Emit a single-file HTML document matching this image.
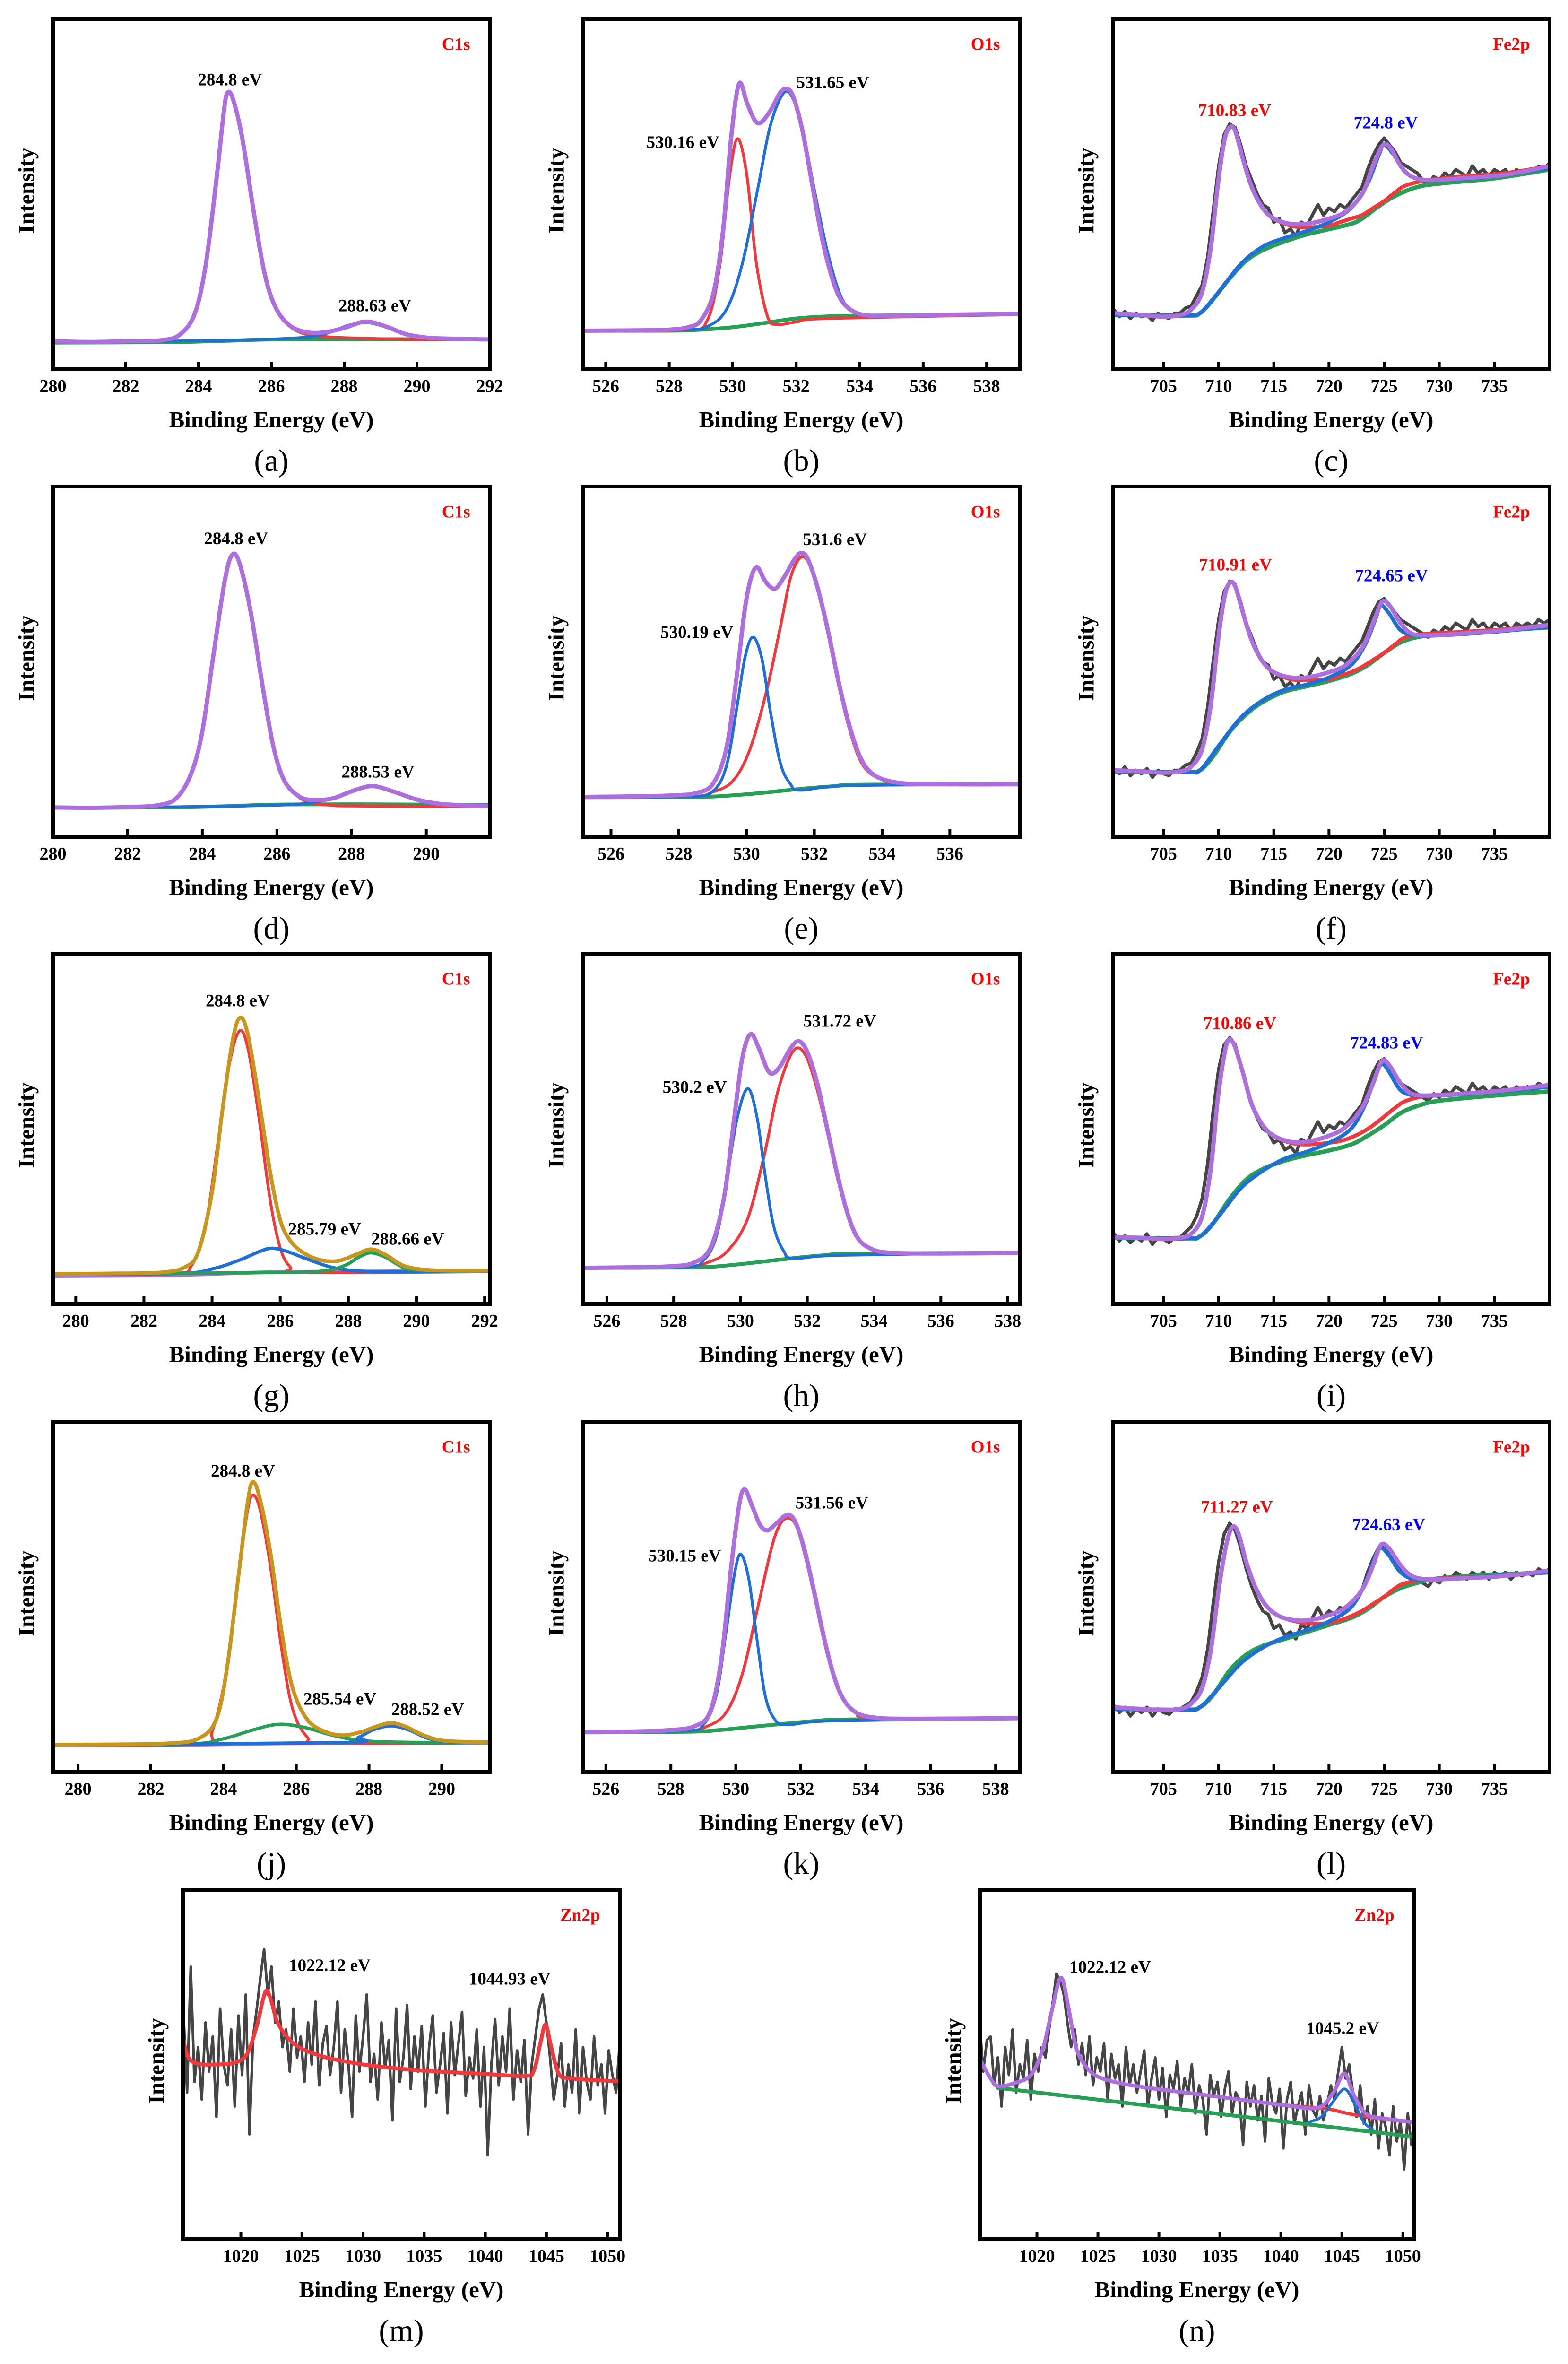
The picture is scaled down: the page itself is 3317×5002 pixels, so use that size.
<!DOCTYPE html>
<html><head><meta charset="utf-8"><title>XPS spectra</title>
<style>
html,body{margin:0;padding:0;background:#fff;width:3317px;height:5002px;overflow:hidden;}
svg{display:block;}
.tk{font-family:"Liberation Serif",serif;font-weight:bold;font-size:38px;}
.xl{font-family:"Liberation Serif",serif;font-weight:bold;font-size:49px;}
.yl{font-family:"Liberation Serif",serif;font-weight:bold;font-size:48px;}
.pk{font-family:"Liberation Serif",serif;font-weight:bold;font-size:37px;}
.pl{font-family:"Liberation Serif",serif;font-size:66px;}
</style></head>
<body>
<svg id="fig" xmlns="http://www.w3.org/2000/svg" width="3317" height="5002" viewBox="0 0 3317 5002">
<rect x="0" y="0" width="3317" height="5002" fill="#fff"/>
</svg>
<script>
// ---------- DATA (binding energy eV, intensity % of axis height) ----------
const aEnv=[[280,8],[281,7.8],[282,8],[283,8.3],[283.5,10],[283.9,16],[284.2,30],[284.5,55],[284.7,74],[284.8,79],[284.95,77],[285.2,66],[285.5,46],[285.8,28],[286.1,18],[286.5,12.5],[287,10.5],[287.5,10.6],[288,11.8],[288.6,13.6],[289.2,12],[289.7,10],[290.3,9],[291,8.7],[292,8.5]];
const aRed=[[280,8],[281,7.8],[282,8],[283,8.3],[283.5,10],[283.9,16],[284.2,30],[284.5,55],[284.7,74],[284.8,79],[284.95,77],[285.2,66],[285.5,46],[285.8,28],[286.1,18],[286.5,12.3],[287,9.8],[287.5,9.3],[288,9],[289,8.7],[290,8.5],[292,8.5]];
const aBlue=[[283,8],[285,8.3],[286,8.6],[287,9.2],[287.6,10.5],[288.1,12.5],[288.6,13.3],[289.1,12.2],[289.6,10.2],[290.2,8.9],[291,8.5],[292,8.4]];
const aGreen=[[280,7.6],[283,7.7],[284,7.9],[285,8.2],[286,8.5],[288,8.6],[292,8.5]];

const bEnv=[[525.3,11],[527,11.1],[528,11.3],[528.6,12],[529,14],[529.4,22],[529.7,40],[529.95,66],[530.2,81.5],[530.45,76],[530.7,71],[530.9,70.5],[531.2,74],[531.5,79],[531.7,80],[531.9,78],[532.2,68],[532.5,53],[532.8,38],[533.1,27],[533.4,20],[533.8,16.5],[534.3,15.3],[535,15.3],[536,15.4],[537,15.6],[539,15.8]];
const bRed=[[525.3,11],[528.5,11.2],[529.2,14],[529.6,30],[529.9,55],[530.16,65.8],[530.45,55],[530.75,30],[531.1,15],[531.4,12.8],[532,13.5],[533,14.5],[539,15.6]];
const bBlue=[[525.3,11],[528.5,11.3],[529.2,12.2],[529.8,17],[530.3,30],[530.8,52],[531.2,70],[531.65,79.2],[532,75],[532.3,64],[532.6,50],[533,33],[533.4,21],[533.8,16.5],[534.5,15.4],[539,15.7]];
const bGreen=[[525.3,11],[528,11],[529,11.3],[530,12],[531,13.2],[532,14.5],[533,15.1],[534,15.3],[539,15.7]];

const cRaw=[17,15,16.5,14.5,16,15,15.5,14,16,15,14.5,16,16,17.5,18,21,24,32,45,58,67,70,69,64,58,54,50,47,46,42,43,39,40,38,42,41,44,47,44,46,45,47,46,48,50,52,57,61,64,66,64,62,59,58,57,56,54,53,55,54,56,55,57,56,55,58,56,57,55,57,56,57,55,57,56,57,56,58,57,59];
const cEnv=[[700.4,16],[703,15.5],[705,15],[706.5,15.5],[707.5,17],[708.5,22],[709.3,35],[709.9,52],[710.5,65],[711,69],[711.5,68],[712.2,60],[713,52],[714,46],[715,43],[716.5,41.5],[718,41.5],[720,43],[721.5,45],[723,50],[724,58],[724.9,64],[725.6,63],[726.5,58],[727.5,55],[729,54],[732,54.5],[736,55.5],[740,58]];
const cRed=[[700.4,16],[703,15.5],[705,15],[706.5,15.5],[707.5,17],[708.5,22],[709.3,35],[709.9,52],[710.5,65],[711,69],[711.5,68],[712.2,60],[713,52],[714,46],[715,43],[716.5,41],[718,40.5],[720,41],[721,42],[722,43],[723,44],[724,46],[725,48],[726,50.5],[727,52.5],[729,54],[732,55],[736,56],[740,58]];
const cBlue=[[700.4,15.5],[707,15.4],[708.3,16],[710,22],[712,30],[714,35],[716,37.5],[718,39.5],[720,42],[722,46],[723.5,53],[724.5,61],[725,64],[725.8,61.5],[727,56],[728.5,54],[730,54],[735,55],[740,57.5]];
const cGreen=[[700.4,15.5],[707,15.3],[708.3,16],[709.5,20],[711,26],[712.5,31],[714,34],[716,36.5],[718,38.5],[720,40],[722,41.5],[723,43],[724.5,46.5],[726,49.5],[728,52],[730,53],[735,54.5],[740,57]];

const dEnv=[[280,8.4],[281,8.3],[282,8.5],[282.8,9],[283.3,11],[283.7,18],[284,30],[284.3,52],[284.6,73],[284.8,80.5],[285,78],[285.3,64],[285.6,44],[285.9,26],[286.2,16],[286.6,11.5],[287,10.5],[287.5,11],[288,13],[288.55,14.5],[289.1,13],[289.7,10.8],[290.3,9.5],[291,9],[291.7,8.8]];
const dRed=[[280,8.4],[281,8.3],[282,8.5],[282.8,9],[283.3,11],[283.7,18],[284,30],[284.3,52],[284.6,73],[284.8,80.5],[285,78],[285.3,64],[285.6,44],[285.9,26],[286.2,16],[286.6,11.2],[287,9.5],[287.5,9],[288,8.8],[291.7,8.6]];
const dBlue=[[282,8.4],[285,8.8],[286.5,9.3],[287.3,10.5],[288,13],[288.55,14.3],[289.1,13],[289.7,10.6],[290.3,9.3],[291.7,8.8]];
const dGreen=[[280,8.3],[283,8.4],[284.5,8.7],[286,9.2],[288,9.3],[291.7,9.1]];

const eEnv=[[525.17,11.4],[527,11.6],[528,11.9],[528.5,12.5],[529,15],[529.4,25],[529.7,45],[529.95,65],[530.15,74.5],[530.33,76.8],[530.55,73],[530.83,70.8],[531.1,74],[531.4,79],[531.6,81],[531.8,79.5],[532.1,71],[532.4,59],[532.7,45],[533,33],[533.3,24],[533.6,19],[534,16.5],[534.6,15.3],[535.5,15],[538.06,15]];
const eBlue=[[525.17,11.3],[528.3,11.5],[529,13],[529.4,20],[529.7,36],[529.95,51],[530.19,57],[530.45,51],[530.7,36],[531,21],[531.3,15],[531.6,13.3],[533,14.6],[538.06,15]];
const eRed=[[525.17,11.3],[528.3,11.5],[529,12.8],[529.6,16],[530.1,25],[530.6,42],[531,60],[531.3,74],[531.6,79.8],[531.85,78],[532.1,71],[532.4,58],[532.7,44],[533,32],[533.3,23],[533.6,18.5],[534,16.5],[534.6,15.3],[538.06,15]];
const eGreen=[[525.17,11.3],[528.5,11.4],[529.5,11.8],[530.5,12.6],[531.5,13.6],[532.5,14.4],[533.5,14.9],[538.06,15]];

const fRaw=[19,18,20,17.5,19,18,19.5,17,19,18,17.5,19,19,20.5,21,24,28,37,50,62,70,73,72,67,61,57,53,50,49,45,46,43,44,42,46,45,48,51,48,50,49,51,50,52,54,56,60,64,67,68,66,64,62,61,60,59,58,57,59,58,60,59,61,60,59,62,60,61,59,61,60,61,59,61,60,61,60,62,61,62];
const fEnv=[[700.4,19],[703,18.7],[705,18.3],[706.5,18.7],[707.5,20],[708.5,25],[709.3,38],[709.9,55],[710.5,68],[711,72.5],[711.5,71.5],[712.2,64],[713,56],[714,50],[715,47],[716.5,45.5],[718,45.5],[720,47],[721.5,49],[723,54],[724,61],[724.8,67],[725.5,66],[726.5,61],[727.5,58],[729,57.5],[732,58],[736,59],[740,60.5]];
const fRed=[[700.4,19],[703,18.7],[705,18.3],[706.5,18.7],[707.5,20],[708.5,25],[709.3,38],[709.9,55],[710.5,68],[711,72.5],[711.5,71.5],[712.2,64],[713,56],[714,50],[715,47],[716.5,45],[718,44.8],[720,45],[721,46],[722,47],[723,48.5],[724,50.5],[725,52.5],[726,55],[727,57],[729,58],[732,58.5],[736,59.3],[740,60.5]];
const fBlue=[[700.4,18.7],[707,18.5],[708.3,19],[710,26],[712,34],[714,39],[716,42],[718,43.5],[720,45.5],[722,49],[723.3,55],[724.2,62],[724.7,66],[725.4,64],[726.5,59],[727.8,57.5],[730,57.5],[735,58.5],[740,60]];
const fGreen=[[700.4,18.7],[707,18.5],[708.3,19],[709.5,23],[711,30],[712.5,35],[714,38.5],[716,41.5],[718,43],[720,44.5],[722,46.5],[723.5,49],[725,52.5],[726.5,55.5],[728,57],[730,57.8],[735,58.8],[740,59.8]];

const gYellow=[[279.3,8.6],[281,8.7],[282.5,9],[283.2,10.5],[283.6,15],[284,32],[284.3,55],[284.6,75],[284.82,81.7],[285.05,77],[285.35,60],[285.7,38],[286,24],[286.3,18],[286.7,14.5],[287.2,12.5],[287.7,12.3],[288.2,14],[288.66,15.6],[289.1,14],[289.6,11],[290.2,9.8],[291,9.5],[292.15,9.5]];
const gRed=[[279.3,8.5],[282.8,8.7],[283.4,11],[283.8,22],[284.2,48],[284.5,68],[284.8,77.9],[285.05,73],[285.35,55],[285.7,30],[286,16],[286.3,10.5],[286.7,9],[292.15,9.2]];
const gBlue=[[279.3,8.5],[283,8.7],[284,10],[284.8,12.5],[285.4,15],[285.76,15.9],[286.2,15],[286.8,12.8],[287.5,10.5],[288.3,9.4],[289.5,9.2],[292.15,9.3]];
const gGreen=[[279.3,8.5],[286,9],[287.3,9.5],[287.9,11],[288.3,13.3],[288.66,14.6],[289.1,13.3],[289.5,11],[290,9.7],[292.15,9.5]];
const gPurple=[[279.3,8.1],[283,8.3],[285,8.9],[287,9.2],[292.15,9.4]];

const hEnv=[[525.28,10.3],[527,10.5],[528,10.8],[528.6,11.8],[529.1,16],[529.5,30],[529.8,52],[530.05,70],[530.3,77],[530.55,73],[530.8,67],[530.97,65.8],[531.2,68],[531.5,73],[531.75,75],[532,72],[532.3,63],[532.6,50],[532.9,37],[533.2,26],[533.5,19],[533.9,15.8],[534.5,14.6],[536,14.4],[538.36,14.6]];
const hBlue=[[525.28,10.3],[528.3,10.6],[528.9,12.5],[529.3,20],[529.6,36],[529.9,53],[530.22,61.5],[530.5,53],[530.75,36],[531,22],[531.3,15],[531.6,13],[533,13.9],[538.36,14.6]];
const hRed=[[525.28,10.3],[528.3,10.6],[529,11.8],[529.6,15],[530.2,24],[530.7,42],[531.1,60],[531.45,70],[531.72,73.1],[532,70],[532.3,61],[532.6,49],[532.9,36],[533.2,26],[533.5,19],[533.9,15.8],[534.5,14.6],[538.36,14.6]];
const hGreen=[[525.28,10.3],[528.5,10.4],[529.5,10.9],[530.5,11.9],[531.5,13],[532.5,13.9],[533.5,14.4],[538.36,14.6]];

const iRaw=[20,18,19.5,17.5,19,18,20,17,19,18.5,17.5,19,19,20.5,22,25,30,40,55,67,74,76,74,68,62,57,53,50,49,46,47,44,45,43,47,46,49,52,49,51,50,52,51,53,55,57,62,66,69,70,67,65,63,62,61,60,59,58,60,59,61,60,62,61,60,63,61,62,60,62,61,62,60,62,61,62,61,63,62,63];
const iEnv=[[700.4,19],[703,18.9],[705,18.5],[706.5,18.9],[707.5,20],[708.5,25],[709.3,39],[709.9,58],[710.5,71],[710.9,75.3],[711.4,74],[712.2,66],[713,57],[714,51],[715,48],[716.5,46.3],[718,46.3],[720,48],[721.5,50.5],[723,56],[724,63],[724.8,69.3],[725.5,68],[726.5,63],[727.5,60],[729,59.5],[732,60],[736,61],[740,62.5]];
const iRed=[[700.4,19],[703,18.9],[705,18.5],[706.5,18.9],[707.5,20],[708.5,25],[709.3,39],[709.9,58],[710.5,71],[710.9,75.3],[711.4,74],[712.2,66],[713,57],[714,51],[715,48],[716.5,46],[718,45.5],[720,46],[721,46.5],[722,47.5],[723,49],[724,51],[725,53.5],[726,56],[727,58],[729,59.5],[732,60],[736,61],[740,62.5]];
const iBlue=[[700.4,18.9],[707,18.7],[708.3,19.3],[710,25],[712,33],[714,38],[716,41.5],[718,43.5],[720,46],[722,50],[723.3,57],[724.2,65],[724.8,68.5],[725.4,66.5],[726.5,61],[727.8,59.5],[730,59.5],[735,60.5],[740,62]];
const iGreen=[[700.4,18.9],[707,18.7],[708.3,19.3],[709.5,23],[711,30],[712.5,35.5],[714,38.5],[716,40.9],[718,42.5],[720,43.8],[722,45.5],[723.5,48],[725,51],[726.5,54.5],[728,56.5],[730,58],[735,59.5],[740,60.7]];

const jYellow=[[279.3,7.8],[281,7.9],[282.5,8.2],[283.3,9.5],[283.8,15],[284.1,30],[284.4,55],[284.65,76],[284.8,82.8],[285,78],[285.3,62],[285.6,40],[285.9,24],[286.3,15],[286.8,11.5],[287.3,10.5],[287.8,11.5],[288.2,13],[288.6,14],[289,13],[289.5,10.5],[290.1,8.9],[291.32,8.5]];
const jRed=[[279.3,7.7],[283.3,8],[283.7,12],[284.1,30],[284.4,55],[284.65,74],[284.8,79],[285,75],[285.3,58],[285.6,35],[285.9,18],[286.3,10],[286.8,8.3],[291.32,8.3]];
const jGreen=[[279.3,7.8],[283,8],[284,9.5],[284.8,12],[285.5,13.6],[286.2,12.8],[287,10.5],[287.8,9],[289,8.5],[291.32,8.4]];
const jBlue=[[279.3,7.8],[287.2,8.4],[287.7,9.8],[288.1,12],[288.6,13.2],[289.1,12],[289.6,9.7],[290.2,8.6],[291.32,8.4]];
const jPurple=[[279.3,7.7],[283,7.8],[285,8.1],[287,8.3],[291.32,8.4]];

const kEnv=[[525.29,11.4],[527,11.6],[528,12],[528.7,13],[529.2,17],[529.55,32],[529.85,58],[530.1,76],[530.27,80.7],[530.5,76],[530.75,70.5],[530.98,69],[531.25,71],[531.55,73.3],[531.8,72],[532.1,64],[532.4,52],[532.7,39],[533,28],[533.3,21],[533.7,17],[534.3,15.5],[535.5,15.2],[538.74,15.4]];
const kBlue=[[525.29,11.4],[528.4,11.8],[529,13.5],[529.4,22],[529.7,40],[529.95,56],[530.15,62.2],[530.4,55],[530.65,38],[530.9,22],[531.2,15],[531.6,13.5],[533,14.6],[538.74,15.3]];
const kRed=[[525.29,11.4],[528.4,11.8],[529.1,13],[529.7,17],[530.2,28],[530.7,48],[531.1,64],[531.35,70.5],[531.6,72.5],[531.85,70.5],[532.1,63],[532.4,51],[532.7,38],[533,27.5],[533.3,21],[533.7,17],[534.3,15.5],[538.74,15.3]];
const kGreen=[[525.29,11.3],[528.5,11.5],[529.5,12],[530.5,12.9],[531.5,13.8],[532.5,14.6],[533.5,15],[538.74,15.3]];

const lRaw=[19,17,18.5,16,18,17,18.5,16,18,17,16.5,18,18,19,20,23,27,35,48,60,68,71,69,64,58,53,49,46,45,41,42,39,40,38,42,41,44,47,44,46,45,47,46,48,50,52,57,61,64,65,63,61,58,57,56,55,54,53,55,54,56,55,57,56,55,57,56,57,55,57,56,57,55,57,56,57,56,58,57,58];
const lEnv=[[700.4,18.5],[703,18],[705,17.7],[706.5,18],[707.5,19.5],[708.5,24],[709.3,35],[710,52],[710.7,65],[711.27,70],[711.8,68],[712.5,60],[713.3,53],[714.3,47.5],[715.5,44.5],[717,43.3],[718.5,43.5],[720,44.8],[721.5,47],[723,52],[724,59],[724.7,64.8],[725.4,64],[726.5,59],[727.5,56],[729,55],[732,55.3],[736,56],[740,57.5]];
const lRed=[[700.4,18.5],[703,18],[705,17.7],[706.5,18],[707.5,19.5],[708.5,24],[709.3,35],[710,52],[710.7,65],[711.27,70],[711.8,68],[712.5,60],[713.3,53],[714.3,47.5],[715.5,44.5],[717,43],[718.5,42.3],[720,42.6],[721,43.3],[722,44.5],[723,46],[724,48],[725,50],[726,52.5],[727,54],[729,55],[732,55.5],[736,56],[740,57.5]];
const lBlue=[[700.4,18],[707,17.8],[708.3,18.5],[710,24],[712,31],[714,35.5],[716,38.5],[718,40.5],[720,43],[722,47],[723.3,54],[724.2,61.5],[724.7,64],[725.4,62],[726.5,57],[727.8,55],[730,55],[735,56],[740,57]];
const lGreen=[[700.4,18],[707,17.8],[708.3,18.5],[709.5,22],[711,29],[712.5,33.5],[714,36],[716,38],[718,40],[720,42],[722,44],[723.5,46.5],[725,50],[726.5,52.5],[728,54],[730,55.3],[735,56.3],[740,57]];

const mRaw=[50,65,42,78,45,55,40,62,48,58,35,66,50,44,60,38,64,47,70,30,58,66,75,83,70,78,62,68,55,60,48,66,52,58,45,62,50,68,44,56,61,47,55,68,42,60,50,35,64,48,58,70,45,53,40,62,49,57,34,66,45,52,67,43,58,48,61,38,55,64,42,50,59,36,62,47,56,65,41,52,46,60,38,55,24,50,63,44,58,48,66,40,54,45,57,30,50,58,66,70,62,52,40,47,56,38,50,42,60,36,55,45,40,58,44,50,36,54,47,42,56,38,48];
const mRed=[[1015.3,57],[1015.7,52],[1016.5,50.2],[1018,50],[1019.5,50.5],[1020.5,53],[1021.3,61],[1021.8,68.5],[1022.12,71.2],[1022.5,68],[1023,62],[1024,57],[1025,54.5],[1026.5,52.5],[1028,51.2],[1030,50],[1033,48.8],[1036,48],[1040,47.3],[1043.3,46.7],[1044,48.5],[1044.5,56],[1044.93,61.4],[1045.4,55],[1046,47.5],[1047,46],[1051,45.2]];

const nRaw=[55,62,48,57,58,44,52,38,55,47,60,42,50,46,57,40,53,48,55,52,60,68,76,74,70,62,55,60,50,56,47,58,44,52,48,56,40,53,46,50,38,55,44,50,42,48,54,38,46,52,40,49,35,47,43,51,38,46,42,50,36,44,40,30,47,41,45,35,43,48,36,42,40,27,45,38,44,34,41,28,46,39,36,43,26,40,45,33,38,42,30,44,37,35,41,34,39,44,40,48,55,46,50,42,35,44,33,38,30,40,26,36,32,24,38,28,34,20,36,27,33,30,25,31];
const nEnv=[[1015.4,51],[1016.2,46],[1016.8,43.8],[1018,44.5],[1019.5,47],[1020.5,54.6],[1021.2,65],[1021.97,74.8],[1022.6,66],[1023.2,55],[1024,49.5],[1025,46.5],[1027,44.5],[1030,42.9],[1035,40.7],[1040,38.5],[1043,37.6],[1044.3,42],[1045.2,47.4],[1046,41.1],[1047,35.8],[1048.5,34.5],[1050.9,33.5]];
const nRed=[[1015.4,51],[1016.2,46],[1016.8,43.8],[1018,44.5],[1019.5,47],[1020.5,54.6],[1021.2,65],[1021.97,74.8],[1022.6,66],[1023.2,55],[1024,49.5],[1025,46.5],[1027,44.5],[1030,42.9],[1035,40.7],[1040,38.5],[1043,37.6],[1044,37.2],[1045.2,36.2],[1046.5,35.3],[1048.5,34.3],[1050.9,33.4]];
const nBlue=[[1042.3,33.5],[1043.3,35],[1044.2,39],[1045.2,43],[1046,39],[1046.8,33.5],[1047.5,31.5]];
const nGreen=[[1016.8,43.3],[1050.9,29.3]];

const cTicks=[280,282,284,286,288,290,292];
const oTicks=[526,528,530,532,534,536,538];
const feTicks=[705,710,715,720,725,730,735];
const znTicks=[1020,1025,1030,1035,1040,1045,1050];
const rawFeStart=700.5, rawFeStep=0.5, rawZnStart=1015.0, rawZnStep=0.3;

// ---------- STYLE ----------
const PUR='#ad6fdd',RED='#f2383a',BLU='#1f6fd8',GRN='#27a056',GRY='#454545',YEL='#c8961c';
const svg=document.getElementById('fig');
const NS='http://www.w3.org/2000/svg';

function mk(tag,attrs,parent){const e=document.createElementNS(NS,tag);for(const k in attrs)e.setAttribute(k,attrs[k]);(parent||svg).appendChild(e);return e;}
function xS(p,v){return p.x+(v-p.xmin)/(p.xmax-p.xmin)*p.w;}
function yS(p,v){return p.y+p.h-v/100*p.h;}
function smoothPath(p,pts){
  const P=pts.map(q=>[xS(p,q[0]),yS(p,q[1])]);
  let d='M'+P[0][0].toFixed(1)+','+P[0][1].toFixed(1);
  for(let i=0;i<P.length-1;i++){
    const p0=P[i-1]||P[i],p1=P[i],p2=P[i+1],p3=P[i+2]||P[i+1];
    const c1=[p1[0]+(p2[0]-p0[0])/6,p1[1]+(p2[1]-p0[1])/6];
    const c2=[p2[0]-(p3[0]-p1[0])/6,p2[1]-(p3[1]-p1[1])/6];
    d+='C'+c1[0].toFixed(1)+','+c1[1].toFixed(1)+' '+c2[0].toFixed(1)+','+c2[1].toFixed(1)+' '+p2[0].toFixed(1)+','+p2[1].toFixed(1);
  }
  return d;
}
function rawPath(p,vals,start,step){
  let d='';
  vals.forEach((v,i)=>{const X=xS(p,start+i*step),Y=yS(p,v);d+=(i?'L':'M')+X.toFixed(1)+','+Y.toFixed(1);});
  return d;
}

const W=924,H=741;
const panels=[
 {id:'a',x:112,y:40,xmin:280,xmax:292,ticks:cTicks,corner:'C1s',
  curves:[[aGreen,GRN,8,'background-line'],[aRed,RED,6,'c-c-peak-fit'],[aBlue,BLU,6,'o-c-o-peak-fit'],[aEnv,PUR,9,'envelope-fit']],
  labels:[['284.8 eV',.405,.174,'#000'],['288.63 eV',.737,.819,'#000']]},
 {id:'b',x:1233,y:40,xmin:525.28,xmax:539.04,ticks:oTicks,corner:'O1s',
  curves:[[bGreen,GRN,8,'background-line'],[bRed,RED,6,'lattice-oxygen-fit'],[bBlue,BLU,6,'adsorbed-oxygen-fit'],[bEnv,PUR,9,'envelope-fit']],
  labels:[['530.16 eV',.229,.353,'#000'],['531.65 eV',.572,.182,'#000']]},
 {id:'c',x:2354,y:40,xmin:700.4,xmax:740,ticks:feTicks,corner:'Fe2p',raw:cRaw,
  curves:[[cGreen,GRN,9,'background-line'],[cRed,RED,8,'fe2p3-fit'],[cBlue,BLU,8,'fe2p1-fit'],[cEnv,PUR,9,'envelope-fit']],
  labels:[['710.83 eV',.279,.262,'#f00'],['724.8 eV',.625,.297,'#00f']]},
 {id:'d',x:112,y:1029,xmin:280,xmax:291.7,ticks:cTicks.slice(0,6),corner:'C1s',
  curves:[[dGreen,GRN,8,'background-line'],[dRed,RED,6,'c-c-peak-fit'],[dBlue,BLU,6,'o-c-o-peak-fit'],[dEnv,PUR,9,'envelope-fit']],
  labels:[['284.8 eV',.419,.149,'#000'],['288.53 eV',.744,.815,'#000']]},
 {id:'e',x:1233,y:1029,xmin:525.17,xmax:538.06,ticks:oTicks.slice(0,6),corner:'O1s',
  curves:[[eGreen,GRN,8,'background-line'],[eRed,RED,6,'adsorbed-oxygen-fit'],[eBlue,BLU,6,'lattice-oxygen-fit'],[eEnv,PUR,9,'envelope-fit']],
  labels:[['530.19 eV',.261,.417,'#000'],['531.6 eV',.577,.152,'#000']]},
 {id:'f',x:2354,y:1029,xmin:700.4,xmax:740,ticks:feTicks,corner:'Fe2p',raw:fRaw,
  curves:[[fGreen,GRN,9,'background-line'],[fRed,RED,8,'fe2p3-fit'],[fBlue,BLU,8,'fe2p1-fit'],[fEnv,PUR,9,'envelope-fit']],
  labels:[['710.91 eV',.281,.224,'#f00'],['724.65 eV',.638,.255,'#00f']]},
 {id:'g',x:112,y:2017,xmin:279.33,xmax:292.15,ticks:cTicks,corner:'C1s',
  curves:[[gPurple,PUR,8,'background-line'],[gRed,RED,6,'c-c-peak-fit'],[gBlue,BLU,7,'c-o-peak-fit'],[gGreen,GRN,7,'o-c-o-peak-fit'],[gYellow,YEL,8,'envelope-fit']],
  labels:[['284.8 eV',.423,.135,'#000'],['285.79 eV',.622,.787,'#000'],['288.66 eV',.812,.815,'#000']]},
 {id:'h',x:1233,y:2017,xmin:525.28,xmax:538.36,ticks:oTicks,corner:'O1s',
  curves:[[hGreen,GRN,8,'background-line'],[hRed,RED,6,'adsorbed-oxygen-fit'],[hBlue,BLU,6,'lattice-oxygen-fit'],[hEnv,PUR,9,'envelope-fit']],
  labels:[['530.2 eV',.256,.382,'#000'],['531.72 eV',.588,.193,'#000']]},
 {id:'i',x:2354,y:2017,xmin:700.4,xmax:740,ticks:feTicks,corner:'Fe2p',raw:iRaw,
  curves:[[iGreen,GRN,9,'background-line'],[iRed,RED,8,'fe2p3-fit'],[iBlue,BLU,8,'fe2p1-fit'],[iEnv,PUR,9,'envelope-fit']],
  labels:[['710.86 eV',.291,.2,'#f00'],['724.83 eV',.627,.255,'#00f']]},
 {id:'j',x:112,y:3007,xmin:279.31,xmax:291.32,ticks:cTicks.slice(0,6),corner:'C1s',
  curves:[[jPurple,PUR,8,'background-line'],[jRed,RED,6,'c-c-peak-fit'],[jGreen,GRN,7,'c-o-peak-fit'],[jBlue,BLU,7,'o-c-o-peak-fit'],[jYellow,YEL,8,'envelope-fit']],
  labels:[['284.8 eV',.435,.141,'#000'],['285.54 eV',.657,.792,'#000'],['288.52 eV',.858,.822,'#000']]},
 {id:'k',x:1233,y:3007,xmin:525.29,xmax:538.74,ticks:oTicks,corner:'O1s',
  curves:[[kGreen,GRN,8,'background-line'],[kRed,RED,6,'adsorbed-oxygen-fit'],[kBlue,BLU,6,'lattice-oxygen-fit'],[kEnv,PUR,9,'envelope-fit']],
  labels:[['530.15 eV',.233,.383,'#000'],['531.56 eV',.57,.232,'#000']]},
 {id:'l',x:2354,y:3007,xmin:700.4,xmax:740,ticks:feTicks,corner:'Fe2p',raw:lRaw,
  curves:[[lGreen,GRN,9,'background-line'],[lRed,RED,8,'fe2p3-fit'],[lBlue,BLU,8,'fe2p1-fit'],[lEnv,PUR,9,'envelope-fit']],
  labels:[['711.27 eV',.284,.244,'#f00'],['724.63 eV',.632,.294,'#00f']]},
 {id:'m',x:387,y:3997,w:924,h:739,xmin:1015.26,xmax:1051,ticks:znTicks,corner:'Zn2p',raw:mRaw,zn:true,
  curves:[[mRed,RED,8,'zn2p-fit']],
  labels:[['1022.12 eV',.336,.217,'#000'],['1044.93 eV',.748,.256,'#000']]},
 {id:'n',x:2073,y:3997,w:918,h:739,xmin:1015.33,xmax:1050.9,ticks:znTicks,corner:'Zn2p',raw:nRaw,zn:true,
  curves:[[nGreen,GRN,8,'background-line'],[nRed,RED,7,'zn2p3-fit'],[nBlue,BLU,6,'zn2p1-fit'],[nEnv,PUR,8,'envelope-fit']],
  labels:[['1022.12 eV',.30,.222,'#000'],['1045.2 eV',.836,.397,'#000']]}
];

const defs=mk('defs',{});
panels.forEach(p=>{
  p.w=p.w||W; p.h=p.h||H;
  const g=mk('g',{});
  
  
  const cp=mk('clipPath',{id:'clip-'+p.id},defs);
  mk('rect',{x:p.x,y:p.y,width:p.w,height:p.h},cp);
  const plot=mk('g',{'clip-path':'url(#clip-'+p.id+')'},g);
  
  
  if(p.raw){
    const st=p.zn?rawZnStart:rawFeStart, sp=p.zn?rawZnStep:rawFeStep;
    const r=mk('path',{d:rawPath(p,p.raw,st,sp),fill:'none',stroke:GRY,'stroke-width':p.zn?5.5:7,'stroke-linejoin':'round'},plot);
    
    
  }
  p.curves.forEach(c=>{
    const e=mk('path',{d:smoothPath(p,c[0]),fill:'none',stroke:c[1],'stroke-width':c[2],'stroke-linecap':'round','stroke-linejoin':'round'},plot);
    
    
  });
  const fr=mk('rect',{x:p.x,y:p.y,width:p.w,height:p.h,fill:'none',stroke:'#000','stroke-width':8},g);
  
  
  p.ticks.forEach(t=>{
    const X=xS(p,t);
    const tm=mk('line',{x1:X,x2:X,y1:p.y+p.h,y2:p.y+p.h-16,stroke:'#000','stroke-width':6},g);
    
    
    const tl=mk('text',{x:X,y:p.y+p.h+48,'text-anchor':'middle',class:'tk'},g);
    tl.textContent=t;
    
    
  });
  const xl=mk('text',{x:p.x+p.w/2,y:p.y+p.h+123,'text-anchor':'middle',class:'xl'},g);
  xl.textContent='Binding Energy (eV)';
  
  
  const yx=p.x-56, yy=p.y+p.h*0.49;
  const yl=mk('text',{x:yx,y:yy,'text-anchor':'middle','dominant-baseline':'central',class:'yl',transform:'rotate(-90 '+yx+' '+yy+')'},g);
  yl.textContent='Intensity';
  
  
  const cn=mk('text',{x:p.x+p.w*0.955,y:p.y+p.h*0.073,'text-anchor':'end','dominant-baseline':'central',class:'pk',fill:'#f00'},g);
  cn.textContent=p.corner;
  
  
  p.labels.forEach(L=>{
    const t=mk('text',{x:p.x+p.w*L[1],y:p.y+p.h*L[2],'text-anchor':'middle','dominant-baseline':'central',class:'pk',fill:L[3]},g);
    t.textContent=L[0];
    
    
  });
  const pl=mk('text',{x:p.x+p.w/2,y:p.y+p.h+215,'text-anchor':'middle',class:'pl'},g);
  pl.textContent='('+p.id+')';
  
  
});
</script>
</body></html>
